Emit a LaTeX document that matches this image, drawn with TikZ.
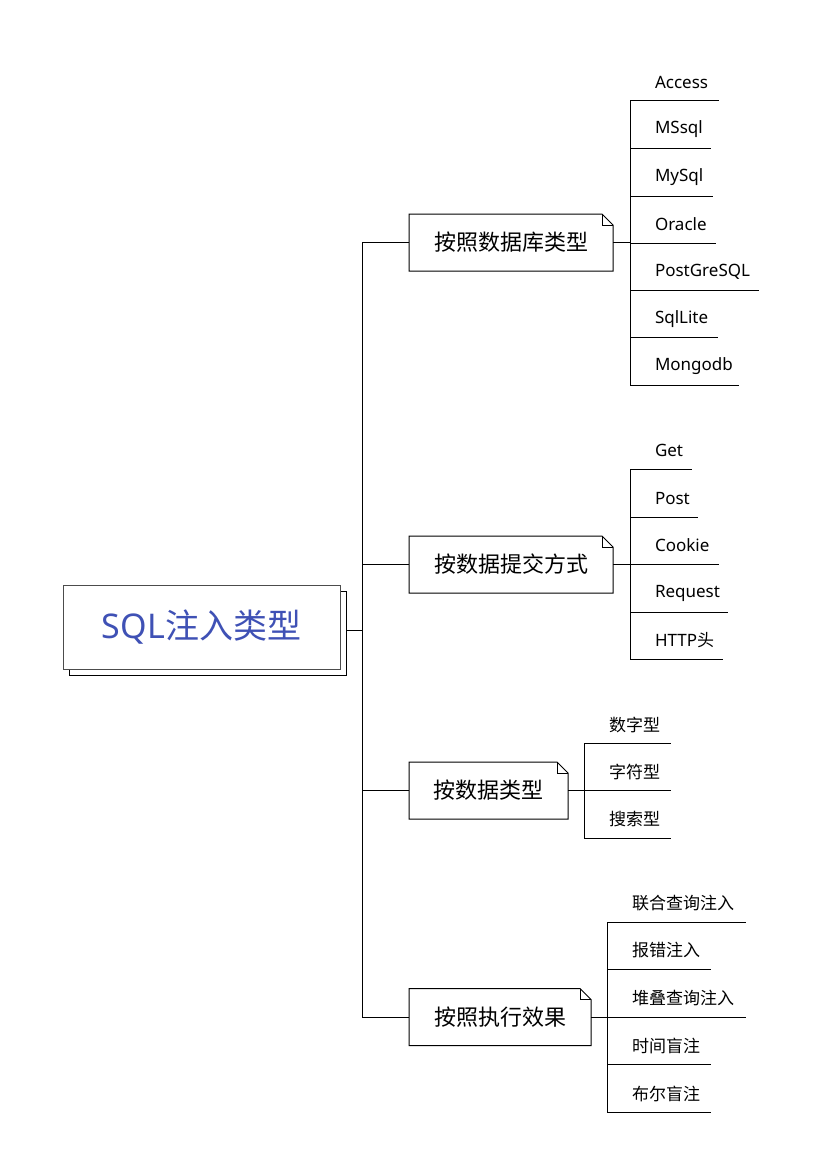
\documentclass[tikz,border=0pt]{standalone}
\usepackage{fontspec}
\setmainfont{Noto Sans}
\newfontfamily\cjk{Noto Sans CJK SC}
\newcommand{\zh}[1]{{\cjk #1}}
\newcommand{\notebox}[1]{%
  \draw[line] (#1.south west) -- (#1.north west) -- ([xshift=-11pt]#1.north east)
    -- ([yshift=-11pt]#1.north east) -- (#1.south east) -- cycle;
  \draw[line] ([xshift=-11pt]#1.north east) |- ([yshift=-11pt]#1.north east);}
\definecolor{rootblue}{HTML}{3F51B5}
\begin{document}
\begin{tikzpicture}[x=1pt,y=-1pt,
  line/.style={draw=black, line width=1pt},
  rootbox/.style={draw=black!70, fill=white, line width=1pt, minimum width=277pt,
    minimum height=84pt, inner sep=0pt, font=\fontsize{34}{40}\selectfont, text=rootblue},
  rootshadow/.style={draw=black, fill=white, line width=1pt, minimum width=277pt,
    minimum height=84pt, inner sep=0pt},
  branch/.style={minimum width=#1, minimum height=57pt, inner sep=0pt, outer sep=0pt,
    font=\fontsize{22}{26}\selectfont\cjk},
  leaf/.style={anchor=south west, inner sep=0pt, outer sep=0pt, minimum height=37pt,
    text width=#1, align=left, font=\fontsize{17}{20}\selectfont,
    execute at begin node={\hspace*{25pt}}},
]
\useasboundingbox (0,0) rectangle (822,1175);

% root
\node[rootshadow] (rootsh) at (207.5,633.5) {};
\node[rootbox] (root) at (201.5,627) {SQL\zh{注入类型}};
\coordinate (sp) at (362,630);
\draw[line] (rootsh.east |- sp) -- (sp);

% branches
\node[branch=204pt] (b1) at (511,242.5) {按照数据库类型};
\node[branch=204pt] (b2) at (511,564.5) {按数据提交方式};
\node[branch=159pt] (b3) at (488.5,790.5) {按数据类型};
\node[branch=182pt] (b4) at (500,1017) {按照执行效果};
\notebox{b1}\notebox{b2}\notebox{b3}\notebox{b4}

\draw[line] (sp |- b1.west) -- (sp |- b4.west);
\foreach \b in {b1,b2,b3,b4}{\draw[line] (sp |- \b.west) -- (\b.west);}

% group 1
\node[leaf=89pt]  (a1) at (630,100.5) {Access};
\node[leaf=81pt]  (a2) at (630,148) {MSsql};
\node[leaf=83pt]  (a3) at (630,196) {MySql};
\node[leaf=86pt]  (a4) at (630,243) {Oracle};
\node[leaf=129pt] (a5) at (630,290) {PostGreSQL};
\node[leaf=88pt]  (a6) at (630,337.5) {SqlLite};
\node[leaf=109pt] (a7) at (630,385) {Mongodb};
% group 2
\node[leaf=62pt]  (c1) at (630,469) {Get};
\node[leaf=68pt]  (c2) at (630,517) {Post};
\node[leaf=89pt]  (c3) at (630,564) {Cookie};
\node[leaf=98pt]  (c4) at (630,612) {Request};
\node[leaf=93pt]  (c5) at (630,659) {HTTP\zh{头}};
% group 3
\node[leaf=87pt]  (d1) at (584,743) {\zh{数字型}};
\node[leaf=87pt]  (d2) at (584,790.5) {\zh{字符型}};
\node[leaf=87pt]  (d3) at (584,838) {\zh{搜索型}};
% group 4
\node[leaf=139pt] (e1) at (607,922) {\zh{联合查询注入}};
\node[leaf=104pt] (e2) at (607,969) {\zh{报错注入}};
\node[leaf=139pt] (e3) at (607,1017) {\zh{堆叠查询注入}};
\node[leaf=104pt] (e4) at (607,1064) {\zh{时间盲注}};
\node[leaf=104pt] (e5) at (607,1112) {\zh{布尔盲注}};

\foreach \n in {a1,a2,a3,a4,a5,a6,a7,c1,c2,c3,c4,c5,d1,d2,d3,e1,e2,e3,e4,e5}
  {\draw[line] (\n.south west) -- (\n.south east);}

\draw[line] (a1.south west) -- (a7.south west);
\draw[line] (c1.south west) -- (c5.south west);
\draw[line] (d1.south west) -- (d3.south west);
\draw[line] (e1.south west) -- (e5.south west);

\draw[line] (b1.east) -- (b1.east -| a1.south west);
\draw[line] (b2.east) -- (b2.east -| c1.south west);
\draw[line] (b3.east) -- (b3.east -| d1.south west);
\draw[line] (b4.east) -- (b4.east -| e1.south west);
\end{tikzpicture}
\end{document}
